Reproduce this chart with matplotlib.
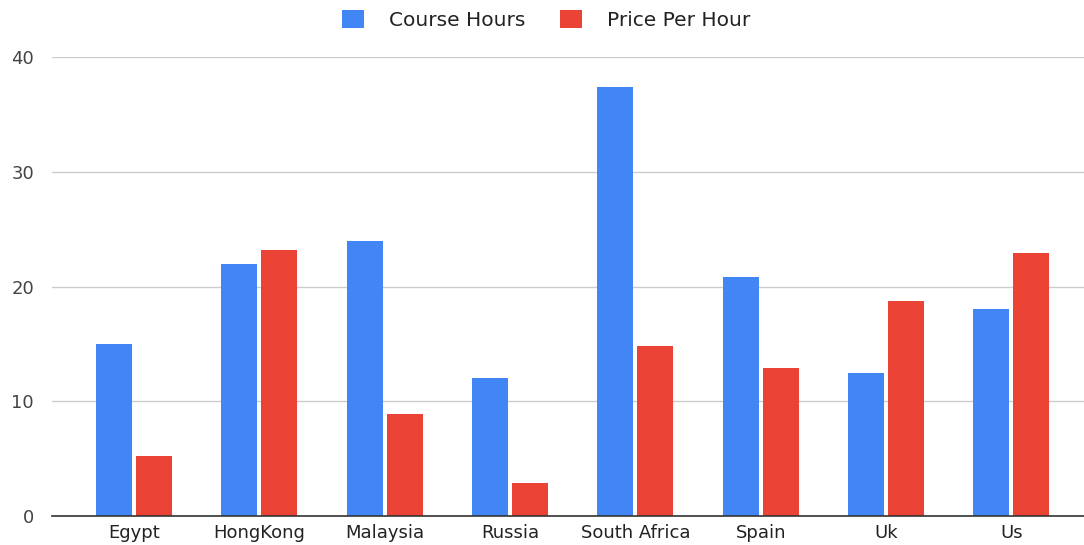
import matplotlib
matplotlib.use("Agg")
import matplotlib.pyplot as plt
import numpy as np

categories = ["Egypt", "HongKong", "Malaysia", "Russia", "South Africa", "Spain", "Uk", "Us"]
course_hours = [15.0, 22.0, 24.0, 12.0, 37.4, 20.8, 12.5, 18.0]
price_per_hour = [5.2, 23.2, 8.9, 2.9, 14.8, 12.9, 18.7, 22.9]
series_names = ["Course Hours", "Price Per Hour"]
yticks = [0, 10, 20, 30, 40]

plt.rcParams['font.family'] = ['DejaVu Sans']

fig = plt.figure(figsize=(10.84, 5.45), dpi=100)
ax = fig.add_axes([52/1084, 1 - 516/545, 1 - 52/1084, (516 - 57)/545])

x = np.arange(len(categories))
w = 0.288
off = 0.16
b1 = ax.bar(x - off, course_hours, width=w, color="#4285F4", label=series_names[0], zorder=3)
b2 = ax.bar(x + off, price_per_hour, width=w, color="#EA4335", label=series_names[1], zorder=3)

ax.set_xlim(-0.654, 7.58)
ax.set_ylim(0, 40)
ax.set_yticks(yticks)
ax.set_xticks(x)
ax.set_xticklabels(categories)
ax.grid(axis='y', color="#cccccc", linewidth=1, zorder=0)
for s in ["top", "right", "left"]:
    ax.spines[s].set_visible(False)
ax.spines["bottom"].set_color("#333333")
ax.spines["bottom"].set_linewidth(1.2)
ax.spines["bottom"].set_zorder(4)
ax.tick_params(axis='both', length=0, labelsize=13, colors="#222222")
ax.tick_params(axis='y', pad=13)
ax.tick_params(axis='x', pad=6)
for lbl in ax.get_yticklabels():
    lbl.set_color("#444444")

leg = fig.legend(handles=[b1, b2], loc='upper center', bbox_to_anchor=(0.504, 1.015), ncol=2,
                 frameon=False, fontsize=14.5, handlelength=1.1, handleheight=1.0,
                 columnspacing=1.7, handletextpad=1.25)
for t in leg.get_texts():
    t.set_color("#222222")

fig.savefig("out.png", dpi=100)
